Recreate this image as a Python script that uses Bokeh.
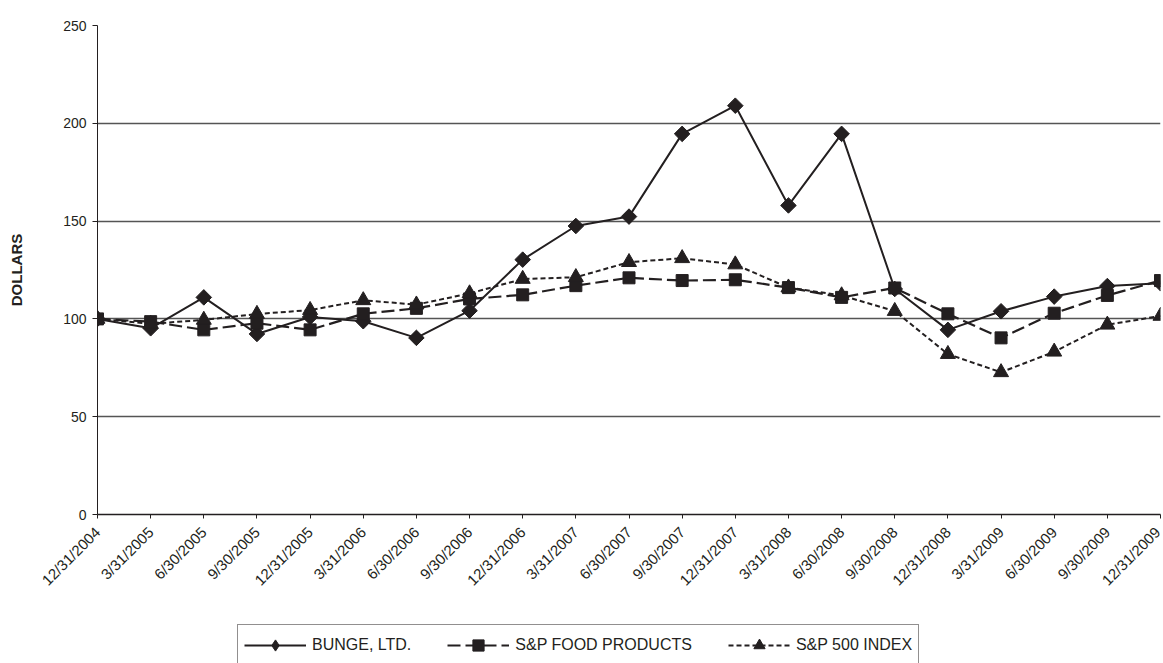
from bokeh.plotting import figure
from bokeh.models import FixedTicker, Legend, LegendItem, Range1d, ColumnDataSource
from bokeh.layouts import column
from bokeh.embed import file_html
from bokeh.resources import INLINE
import math

dates = ["12/31/2004", "3/31/2005", "6/30/2005", "9/30/2005", "12/31/2005", "3/31/2006",
         "6/30/2006", "9/30/2006", "12/31/2006", "3/31/2007", "6/30/2007", "9/30/2007",
         "12/31/2007", "3/31/2008", "6/30/2008", "9/30/2008", "12/31/2008", "3/31/2009",
         "6/30/2009", "9/30/2009", "12/31/2009"]
bunge = [100, 95.2, 111, 92.3, 101, 98.8, 90.3, 104.2, 130.3, 147.5, 152.3, 194.6,
         209, 158, 194.6, 115.3, 94.4, 103.9, 111.4, 116.8, 118.2]
food = [100, 98.6, 94.4, 97.8, 94.4, 102.6, 105.4, 110.2, 112.3, 117, 121, 119.6,
        120, 116, 111, 115.8, 102.6, 90.3, 102.9, 112, 119.6]
sp500 = [100, 97.5, 99.5, 102.5, 104.5, 109.5, 107.3, 113, 120.4, 121.3, 129, 131,
         127.8, 116, 112, 104, 82, 72.7, 83.2, 97, 101.5]
series_names = ["BUNGE, LTD.", "S&P FOOD PRODUCTS", "S&P 500 INDEX"]

xs = list(range(len(dates)))
INK = "#231f20"
FONT = "Liberation Sans"

p = figure(width=1163, height=612, output_backend="svg", toolbar_location=None,
           x_range=Range1d(0, 20), y_range=Range1d(0, 250),
           min_border_left=97, min_border_right=3, min_border_top=25, min_border_bottom=98)
p.outline_line_color = None
p.background_fill_color = "white"

p.xgrid.grid_line_color = None
p.ygrid.grid_line_color = "#555555"
p.ygrid.grid_line_width = 1.4
p.ygrid.ticker = FixedTicker(ticks=[50, 100, 150, 200, 250])

p.yaxis.ticker = FixedTicker(ticks=[0, 50, 100, 150, 200, 250])
p.yaxis.axis_line_color = INK
p.yaxis.major_tick_in = 0
p.yaxis.major_tick_out = 5
p.yaxis.major_tick_line_color = INK
p.yaxis.minor_tick_line_color = None
p.yaxis.major_label_text_font = FONT
p.yaxis.major_label_text_font_size = "14px"
p.yaxis.major_label_text_color = INK
p.yaxis.major_label_standoff = 6
p.yaxis.axis_label = "DOLLARS"
p.yaxis.axis_label_text_font = FONT
p.yaxis.axis_label_text_font_style = "bold"
p.yaxis.axis_label_text_font_size = "15px"
p.yaxis.axis_label_text_color = INK
p.yaxis.axis_label_standoff = 35

p.xaxis.ticker = FixedTicker(ticks=xs)
p.xaxis.major_label_overrides = {i: d for i, d in enumerate(dates)}
p.xaxis.major_label_orientation = math.pi / 4
p.xaxis.axis_line_color = INK
p.xaxis.axis_line_width = 1.5
p.xaxis.major_tick_in = 0
p.xaxis.major_tick_out = 4
p.xaxis.major_tick_line_color = INK
p.xaxis.minor_tick_line_color = None
p.xaxis.major_label_text_font = FONT
p.xaxis.major_label_text_font_size = "15px"
p.xaxis.major_label_text_color = INK
p.xaxis.major_label_standoff = 11

src = ColumnDataSource(dict(x=xs, bunge=bunge, food=food, sp500=sp500))

def styled(fig, ycol, legend_copy=False):
    """Return (line, marker) renderers for one series in the given figure."""
    if ycol == "bunge":
        ln = fig.line("x", ycol, source=src, line_color=INK, line_width=2)
        if legend_copy:
            mk = fig.scatter("x", ycol, source=src, marker="diamond", size=17, color=INK)
        else:
            mk = fig.scatter("x", ycol, source=src, marker="square", angle=math.pi / 4,
                             size=11, color=INK)
    elif ycol == "food":
        ln = fig.line("x", ycol, source=src, line_color=INK, line_width=2.2, line_dash="13 5")
        mk = fig.scatter("x", ycol, source=src, marker="square", size=12, color=INK)
    else:
        ln = fig.line("x", ycol, source=src, line_color=INK, line_width=2, line_dash="5 3")
        mk = fig.scatter("x", ycol, source=src, marker="triangle", size=15, color=INK)
    return [ln, mk]

for col in ["bunge", "food", "sp500"]:
    styled(p, col)

# legend strip below the chart (its ranges keep the series themselves out of view)
lg = figure(width=1163, height=51, output_backend="svg", toolbar_location=None,
            x_range=Range1d(-100, -99), y_range=Range1d(-100, -99),
            x_axis_type=None, y_axis_type=None,
            min_border_left=0, min_border_right=0, min_border_top=0, min_border_bottom=0)
lg.outline_line_color = None
lg.xgrid.grid_line_color = None
lg.ygrid.grid_line_color = None
items = [LegendItem(label=name, renderers=styled(lg, col, legend_copy=True))
         for name, col in zip(series_names, ["bunge", "food", "sp500"])]

legend = Legend(items=items, orientation="horizontal", location=(140, -3))
legend.border_line_color = INK
legend.border_line_width = 1.5
legend.background_fill_color = "white"
legend.label_text_font = FONT
legend.label_text_font_size = "16px"
legend.label_text_color = INK
legend.glyph_width = 62
legend.glyph_height = 28
legend.spacing = 36
legend.padding = 6
legend.margin = 0
legend.label_standoff = 6
lg.add_layout(legend, "center")

layout = column(p, lg, spacing=0)
open("out.html", "w").write(file_html(layout, INLINE))
